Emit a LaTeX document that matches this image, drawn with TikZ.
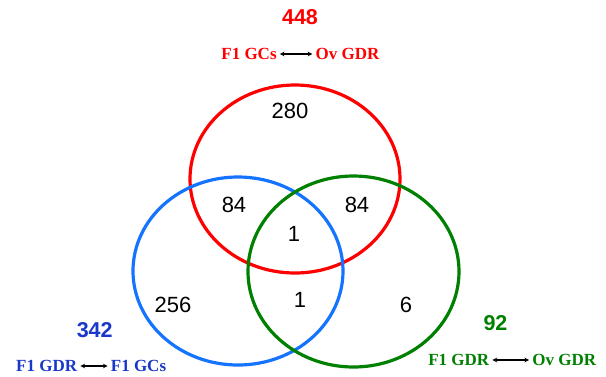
\documentclass[tikz,border=0pt]{standalone}
\usepackage{fontspec}
\setmainfont{Liberation Serif}
\newfontfamily\arialfont{Liberation Sans}
\usepackage{xcolor}
\definecolor{vred}{RGB}{255,0,0}
\definecolor{vblue}{RGB}{20,115,255}
\definecolor{vbluetext}{RGB}{25,55,200}
\definecolor{vgreen}{RGB}{0,128,0}

\begin{document}
\begin{tikzpicture}[x=1pt,y=-1pt,
	ring/.style={line width=3.2pt},
	count/.style={font=\arialfont\fontsize{22}{24}\selectfont},
	total/.style={font=\arialfont\bfseries\fontsize{21.5}{24}\selectfont},
	pair/.style={font=\bfseries\fontsize{17}{19}\selectfont, inner ysep=0pt, inner xsep=3pt},
	link/.style={stealth-stealth, line width=1.1pt, black}]
			\useasboundingbox (0,0) rectangle (606,376);
			\draw[ring,vred] (295,179) ellipse [x radius=105, y radius=94];
			\draw[ring,vblue] (238,271) ellipse [x radius=105, y radius=94];
			\draw[ring,vgreen] (353.5,271.5) ellipse [x radius=105.5, y radius=95.5];
			% counts
			\node[count] (onlyred) at (290,111) {280};
			\node[count] (redblue) at (234,205) {84};
			\node[count] (redgreen) at (357,205) {84};
			\node[count] (allthree) at (294,234) {1};
			\node[count] (onlyblue) at (173,305) {256};
			\node[count] (bluegreen) at (300,300) {1};
			\node[count] (onlygreen) at (406,305) {6};
			% red set
			\node[total,text=vred] (redtotal) at (300,17) {448};
			\node[pair,text=vred] (redleft) at (249,54) {F1 GCs};
			\node[pair,text=vred] (redright) at (347.5,54) {Ov GDR};
			\draw[link] (redleft) -- (redright);
			% blue set
			\node[total,text=vbluetext] (bluetotal) at (94.7,330) {342};
			\node[pair,text=vbluetext] (blueleft) at (46.7,366) {F1 GDR};
			\node[pair,text=vbluetext] (blueright) at (138.5,366) {F1 GCs};
			\draw[link] (blueleft) -- (blueright);
			% green set
			\node[total,text=vgreen] (greentotal) at (495.5,323) {92};
			\node[pair,text=vgreen] (greenleft) at (458.8,360) {F1 GDR};
			\node[pair,text=vgreen] (greenright) at (564.2,360) {Ov GDR};
			\draw[link] (greenleft) -- (greenright);
		\end{tikzpicture}
\end{document}
